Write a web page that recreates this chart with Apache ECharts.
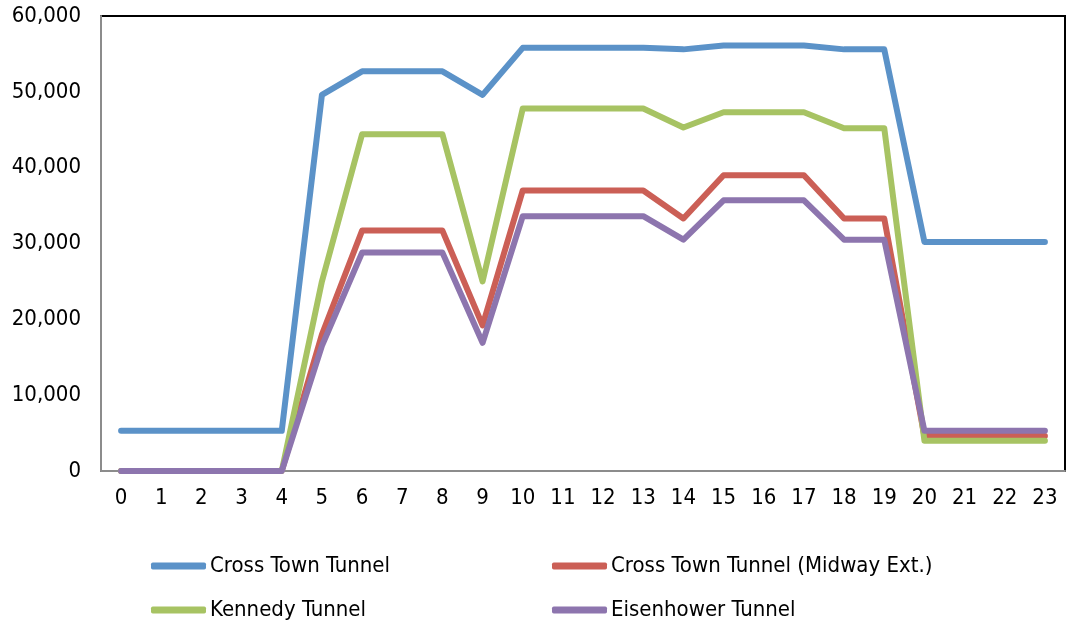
<!DOCTYPE html>
<html>
<head>
<meta charset="utf-8">
<script src="https://cdn.jsdelivr.net/npm/echarts@6/dist/echarts.min.js"></script>
<style>
  html, body { margin: 0; padding: 0; background: #ffffff; }
  #chart { width: 1066px; height: 628px; }
</style>
</head>
<body>
<div id="chart"></div>
<script>
// Hourly traffic volume per tunnel
const hours = ['0','1','2','3','4','5','6','7','8','9','10','11','12','13','14','15','16','17','18','19','20','21','22','23'];

const crossTown = [5300,5300,5300,5300,5300,49600,52700,52700,52700,49600,55800,55800,55800,55800,55600,56100,56100,56100,55600,55600,30200,30200,30200,30200];
const crossTownMidway = [0,0,0,0,0,18000,31700,31700,31700,19200,37000,37000,37000,37000,33300,39000,39000,39000,33300,33300,4600,4600,4600,4600];
const kennedy = [0,0,0,0,0,25000,44400,44400,44400,25000,47800,47800,47800,47800,45300,47300,47300,47300,45200,45200,4000,4000,4000,4000];
const eisenhower = [0,0,0,0,0,16500,28800,28800,28800,16900,33600,33600,33600,33600,30500,35700,35700,35700,30500,30500,5300,5300,5300,5300];

const seriesNames = ['Cross Town Tunnel', 'Cross Town Tunnel (Midway Ext.)', 'Kennedy Tunnel', 'Eisenhower Tunnel'];
const seriesValues = [crossTown, crossTownMidway, kennedy, eisenhower];
const colors = ['#5b92c8', '#cb5f56', '#a7c363', '#8d75ae'];

const FONT = '"DejaVu Sans Condensed", "Liberation Sans Narrow", "DejaVu Sans", sans-serif';

const chart = echarts.init(document.getElementById('chart'), null, { renderer: 'canvas' });

const legendBase = {
  orient: 'vertical',
  top: 550,
  itemGap: 22,
  itemWidth: 55,
  itemHeight: 7,
  icon: 'roundRect',
  textStyle: { fontFamily: FONT, fontSize: 22, color: '#000000', padding: [0, 0, 0, -1] },
  selectedMode: false
};

chart.setOption({
  animation: false,
  color: colors,
  textStyle: { fontFamily: FONT },
  grid: {
    left: 101, right: 1, top: 16, bottom: 157,
    show: true,
    borderColor: '#000000',
    borderWidth: 2,
    containLabel: false
  },
  legend: [
    Object.assign({}, legendBase, { left: 146, data: [seriesNames[0], seriesNames[2]] }),
    Object.assign({}, legendBase, { left: 547, data: [seriesNames[1], seriesNames[3]] })
  ],
  xAxis: {
    type: 'category',
    data: hours,
    boundaryGap: true,
    axisLine: { show: true, lineStyle: { color: '#8c8c8c', width: 2 } },
    axisTick: { show: false },
    axisLabel: { color: '#000000', fontSize: 22, fontFamily: FONT, margin: 16, interval: 0 },
    splitLine: { show: false }
  },
  yAxis: {
    type: 'value',
    min: 0,
    max: 60000,
    interval: 10000,
    axisLine: { show: true, lineStyle: { color: '#8c8c8c', width: 2 } },
    axisTick: { show: false },
    axisLabel: {
      color: '#000000', fontSize: 22, fontFamily: FONT, margin: 20,
      formatter: v => v.toLocaleString('en-US')
    },
    splitLine: { show: false }
  },
  series: seriesNames.map((name, i) => ({
    name: name,
    type: 'line',
    data: seriesValues[i],
    showSymbol: false,
    symbol: 'none',
    lineStyle: { width: 6, color: colors[i], cap: 'round', join: 'round' },
    itemStyle: { color: colors[i] },
    emphasis: { disabled: true }
  }))
});
</script>
</body>
</html>
